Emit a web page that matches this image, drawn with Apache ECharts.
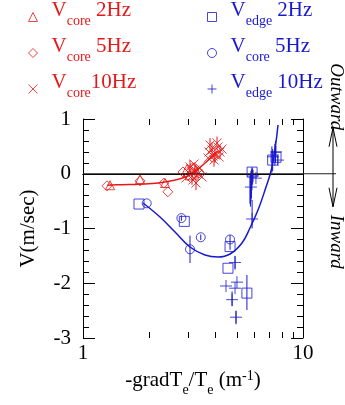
<!DOCTYPE html>
<html>
<head>
<meta charset="utf-8">
<script src="https://cdn.jsdelivr.net/npm/echarts@6/dist/echarts.min.js"></script>
<style>
  html, body { margin: 0; padding: 0; background: #fff; }
  #chart { width: 345px; height: 405px; }
</style>
</head>
<body>
<div id="chart"></div>
<script>
const RED = '#e81818';
const BLUE = '#1818d0';
const FONT = '"Liberation Serif", "Times New Roman", serif';

// Core velocity, red: [normalised gradient, V (m/s)]
const core2Hz = [[1.327, -0.21], [1.816, -0.10], [2.36, -0.17], [2.97, 0.087], [3.263, 0.068], [3.06, -0.03]];
const core5Hz = [[1.286, -0.22], [1.816, -0.13], [2.33, -0.17], [2.43, -0.33], [2.848, 0.032], [3.368, 0.014], [3.13, 0.10]];
const core10Hz = [
  [3.001, 0.032], [3.130, -0.041], [3.228, 0.068], [3.332, -0.005], [3.162, -0.114], [3.403, 0.105],
  [3.065, 0.123], [3.263, -0.169], [3.475, -0.059], [2.94, -0.078], [3.195, 0.178],
  [3.70, 0.288], [3.858, 0.434], [3.981, 0.342], [4.110, 0.489], [3.779, 0.525], [4.196, 0.397],
  [3.940, 0.251], [4.066, 0.562], [4.283, 0.452], [3.739, 0.397], [3.898, 0.324], [4.153, 0.306]
];
// Error bars for the red points: [x, low, high]
const coreErr = [
  [3.13, -0.20, 0.12], [3.228, -0.05, 0.19], [3.263, -0.30, -0.04], [3.065, 0.0, 0.25], [3.332, -0.13, 0.12],
  [3.858, 0.30, 0.57], [4.066, 0.44, 0.68], [3.981, 0.20, 0.48], [3.779, 0.40, 0.65], [4.196, 0.27, 0.52], [3.94, 0.13, 0.37]
];
// Fitted curve through the core points
const coreFitX = [1.29, 1.5, 1.8, 2.2, 2.6, 3.0, 3.2, 3.6, 3.9, 4.1];
const coreFitV = [-0.21, -0.20, -0.19, -0.17, -0.12, -0.04, 0.03, 0.20, 0.34, 0.42];

// Edge velocity, blue
const edge2Hz = [[1.797, -0.553], [2.887, -0.87], [4.66, -1.33], [4.56, -1.726], [5.56, -2.18], [5.87, 0.03], [7.28, 0.25], [7.54, 0.30]];
const edgeCore5Hz = [[1.948, -0.54], [2.80, -0.81], [3.065, -1.38], [3.43, -1.16], [4.66, -1.20]];
const edge10Hz = [
  [4.467, -2.05], [4.91, -2.09], [5.01, -1.98], [4.76, -2.30], [4.96, -2.62], [4.91, -1.62],
  [5.87, -0.826], [5.80, -0.243], [5.93, -0.04], [6.11, -0.08], [7.31, 0.31], [7.54, 0.40], [7.70, 0.25]
];
const edgeErr = [
  [3.065, -1.63, -1.13], [4.66, -1.39, -1.12], [3.43, -1.21, -1.11], [2.80, -0.86, -0.76], [5.56, -2.49, -1.85],
  [5.87, -1.0, -0.48], [5.74, -0.55, -0.05], [5.77, -0.60, 0.0], [5.80, -0.50, 0.05], [5.83, -0.45, 0.08],
  [5.86, -0.30, 0.12], [5.90, -0.20, 0.10],
  [7.22, 0.02, 0.50], [7.28, 0.05, 0.45], [7.45, 0.15, 0.55], [7.50, 0.20, 0.60],
  [4.96, -2.75, -2.50], [4.76, -2.42, -2.15], [4.91, -1.75, -1.50]
];
// Fitted curve through the edge points
const edgeFitX = [1.874, 2.239, 2.62, 3.065, 3.585, 4.11, 4.66, 5.28, 5.74, 6.245, 6.72, 7.23, 7.70];
const edgeFitV = [-0.534, -0.790, -1.064, -1.338, -1.484, -1.521, -1.466, -1.265, -0.991, -0.662, -0.297, 0.123, 0.890];

// Axis settings
const xMin = 1, xMax = 10;
const yMin = -3, yMax = 1, yStep = 1;
const xMinorTicks = [2, 3, 4, 5, 6, 7, 8, 9];

// Legend entries: series name -> subscript and frequency text
const legendLabels = {
  'Vcore 2Hz': ['core', ' 2Hz'],
  'Vcore 5Hz': ['core', ' 5Hz'],
  'Vcore 10Hz': ['core', '10Hz'],
  'Vedge 2Hz': ['edge', ' 2Hz'],
  'Vcore 5Hz (edge)': ['core', ' 5Hz'],
  'Vedge 10Hz': ['edge', ' 10Hz']
};

const SYM = {
  cross: 'path://M0,0L10,10M10,0L0,10',
  plus: 'path://M5,0L5,10M0,5L10,5'
};

function scatter(name, data, symbol, size, color) {
  return {
    type: 'scatter', name, data, symbol, symbolSize: size,
    itemStyle: { color: 'none', borderColor: color, borderWidth: 1 },
    emphasis: { disabled: true }, z: 4
  };
}

function errorBars(data, color) {
  return {
    type: 'custom', data, encode: { x: 0, y: [1, 2] }, silent: true, z: 3,
    renderItem(params, api) {
      const a = api.coord([api.value(0), api.value(1)]);
      const b = api.coord([api.value(0), api.value(2)]);
      return { type: 'line', shape: { x1: a[0], y1: a[1], x2: b[0], y2: b[1] }, style: { stroke: color, lineWidth: 1 } };
    }
  };
}

function fitLine(xs, vs, color) {
  return {
    type: 'line', data: xs.map((x, i) => [x, vs[i]]), smooth: 0.4, symbol: 'none',
    lineStyle: { color, width: 1.5 }, silent: true, z: 2
  };
}

function legendRich(color) {
  return {
    g: { width: 9 },
    v: { fontSize: 21, fontFamily: FONT, color, lineHeight: 22, padding: [0, 0, 7, 0], verticalAlign: 'bottom' },
    s: { fontSize: 14, fontFamily: FONT, color, lineHeight: 16, verticalAlign: 'bottom' },
    f: { fontSize: 21, fontFamily: FONT, color, lineHeight: 22, padding: [0, 0, 7, 0], verticalAlign: 'bottom' }
  };
}

function legendText(name) {
  const l = legendLabels[name];
  return '{g|}{v|V}{s|' + l[0] + '}{f|' + l[1] + '}';
}

const axisLineStyle = { color: '#000', width: 1 };

const chart = echarts.init(document.getElementById('chart'));

chart.setOption({
  animation: false,
  backgroundColor: '#fff',
  grid: { left: 83, right: 42, top: 119, bottom: 67 },
  legend: [
    {
      data: ['Vcore 2Hz', 'Vcore 5Hz', 'Vcore 10Hz'], orient: 'vertical', left: 26, top: 0,
      padding: 0, itemGap: 8, itemWidth: 9, itemHeight: 9, selectedMode: false,
      itemStyle: { borderWidth: 1 },
      formatter: legendText, textStyle: { color: RED, rich: legendRich(RED) }
    },
    {
      data: ['Vedge 2Hz', 'Vcore 5Hz (edge)', 'Vedge 10Hz'], orient: 'vertical', left: 205, top: 0,
      padding: 0, itemGap: 8, itemWidth: 9, itemHeight: 9, selectedMode: false,
      itemStyle: { borderWidth: 1 },
      formatter: legendText, textStyle: { color: BLUE, rich: legendRich(BLUE) }
    }
  ],
  xAxis: [
    {
      type: 'log', logBase: 10, min: xMin, max: xMax, position: 'bottom',
      axisLine: { lineStyle: axisLineStyle },
      axisTick: { inside: true, length: 12, lineStyle: axisLineStyle },
      axisLabel: { fontSize: 21, fontFamily: FONT, color: '#000', margin: 5 },
      splitLine: { show: false },
      name: '{m|-gradT}{s|e}{m|/T}{s|e}{m| (m}{p|-1}{m|)}',
      nameLocation: 'middle', nameGap: 28,
      nameTextStyle: {
        rich: {
          m: { fontSize: 21, fontFamily: FONT, color: '#000', lineHeight: 22, padding: [0, 0, 6, 0], verticalAlign: 'bottom' },
          s: { fontSize: 14, fontFamily: FONT, color: '#000', lineHeight: 16, verticalAlign: 'bottom' },
          p: { fontSize: 14, fontFamily: FONT, color: '#000', lineHeight: 16, padding: [0, 0, 14, 0], verticalAlign: 'bottom' }
        }
      }
    },
    {
      type: 'log', logBase: 10, min: xMin, max: xMax, position: 'top',
      axisLine: { lineStyle: axisLineStyle }, axisTick: { show: false },
      axisLabel: { show: false }, splitLine: { show: false }
    }
  ],
  yAxis: [
    {
      type: 'value', min: yMin, max: yMax, interval: yStep, position: 'left',
      axisLine: { lineStyle: axisLineStyle },
      axisTick: { inside: true, length: 12, lineStyle: axisLineStyle },
      minorTick: { show: true, splitNumber: 5, length: 6, lineStyle: axisLineStyle },
      axisLabel: { fontSize: 21, fontFamily: FONT, color: '#000', margin: 12 },
      splitLine: { show: false },
      name: 'V(m/sec)', nameLocation: 'middle', nameGap: 44, nameRotate: 90,
      nameTextStyle: { fontSize: 21, fontFamily: FONT, color: '#000' }
    },
    {
      type: 'value', min: yMin, max: yMax, interval: yStep, position: 'right',
      axisLine: { lineStyle: axisLineStyle },
      axisTick: { inside: true, length: 12, lineStyle: axisLineStyle },
      minorTick: { show: true, splitNumber: 5, length: 6, lineStyle: axisLineStyle },
      axisLabel: { show: false }, splitLine: { show: false }
    }
  ],
  series: [
    // minor ticks 2..9 on the logarithmic axis, bottom and top edges
    {
      type: 'custom', data: xMinorTicks.map(v => [v, 0]), silent: true, z: 5, clip: false,
      renderItem(params, api) {
        const x = Math.round(api.coord([api.value(0), 0])[0]) + 0.5;
        const cs = params.coordSys;
        const yb = cs.y + cs.height, yt = cs.y;
        return {
          type: 'group', children: [
            { type: 'line', shape: { x1: x, y1: yb, x2: x, y2: yb - 6 }, style: { stroke: '#000', lineWidth: 1 } },
            { type: 'line', shape: { x1: x, y1: yt, x2: x, y2: yt + 6 }, style: { stroke: '#000', lineWidth: 1 } }
          ]
        };
      }
    },
    fitLine(coreFitX, coreFitV, RED),
    fitLine(edgeFitX, edgeFitV, BLUE),
    errorBars(coreErr, RED),
    errorBars(edgeErr, BLUE),
    scatter('Vcore 2Hz', core2Hz, 'triangle', 9, RED),
    scatter('Vcore 5Hz', core5Hz, 'diamond', 10, RED),
    scatter('Vcore 10Hz', core10Hz, SYM.cross, 9, RED),
    scatter('Vedge 2Hz', edge2Hz, 'rect', 10, BLUE),
    scatter('Vcore 5Hz (edge)', edgeCore5Hz, 'circle', 9, BLUE),
    scatter('Vedge 10Hz', edge10Hz, SYM.plus, 12, BLUE)
  ]
});

// Zero line running past the frame, with the Outward / Inward arrow on the right
const y0 = chart.convertToPixel({ yAxisIndex: 0 }, 0);
const xLeft = chart.convertToPixel({ xAxisIndex: 0 }, xMin);
const arrowX = 333;
const arrowTop = y0 - 46, arrowBottom = y0 + 33;
const arrowStyle = { stroke: '#000', lineWidth: 1, fill: 'none' };
chart.setOption({
  graphic: [
    { type: 'line', shape: { x1: xLeft, y1: y0, x2: 336, y2: y0 }, style: { stroke: '#222', lineWidth: 1 }, z: 10 },
    { type: 'line', shape: { x1: arrowX, y1: arrowTop, x2: arrowX, y2: arrowBottom }, style: arrowStyle, z: 10 },
    { type: 'polyline', shape: { points: [[arrowX - 4, arrowTop + 19], [arrowX, arrowTop], [arrowX + 4, arrowTop + 19]] }, style: arrowStyle, z: 10 },
    { type: 'polyline', shape: { points: [[arrowX - 4, arrowBottom - 19], [arrowX, arrowBottom], [arrowX + 4, arrowBottom - 19]] }, style: arrowStyle, z: 10 },
    {
      type: 'text', x: 336, y: y0 - 77, rotation: -Math.PI / 2, z: 10,
      style: { text: 'Outward', font: 'italic 19px ' + FONT, fill: '#000', align: 'center', verticalAlign: 'middle' }
    },
    {
      type: 'text', x: 336, y: y0 + 68, rotation: -Math.PI / 2, z: 10,
      style: { text: 'Inward', font: 'italic 19px ' + FONT, fill: '#000', align: 'center', verticalAlign: 'middle' }
    }
  ]
});
</script>
</body>
</html>
